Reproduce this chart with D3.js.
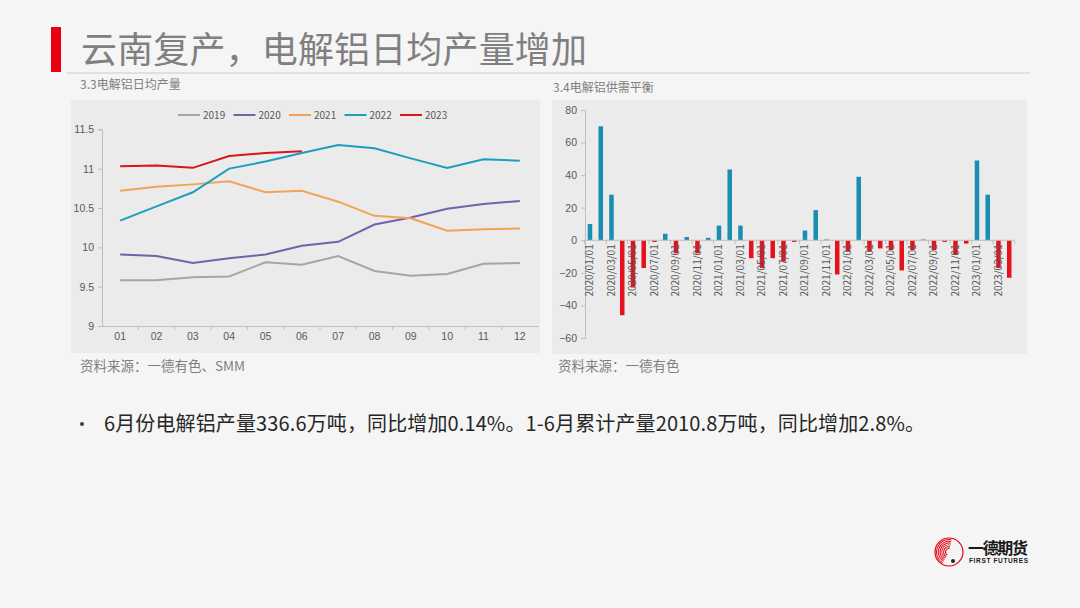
<!DOCTYPE html>
<html>
<head>
<meta charset="utf-8">
<script src="https://d3js.org/d3.v7.min.js"></script>
<style>
  body { margin: 0; background: #f5f5f5; }
  svg { display: block; font-family: "Noto Sans CJK SC", "Noto Sans", sans-serif; }
</style>
</head>
<body>
<svg id="page"></svg>
<script>
// ---- data ----
const months = ['01', '02', '03', '04', '05', '06', '07', '08', '09', '10', '11', '12']
const years = ['2019', '2020', '2021', '2022', '2023']
const s2019 = [9.58, 9.58, 9.62, 9.63, 9.81, 9.78, 9.89, 9.70, 9.64, 9.66, 9.79, 9.80]
const s2020 = [9.91, 9.89, 9.80, 9.86, 9.91, 10.02, 10.07, 10.29, 10.38, 10.49, 10.55, 10.59]
const s2021 = [10.72, 10.77, 10.80, 10.84, 10.70, 10.72, 10.58, 10.40, 10.37, 10.21, 10.23, 10.24]
const s2022 = [10.34, 10.52, 10.70, 11.00, 11.09, 11.20, 11.30, 11.26, 11.13, 11.01, 11.12, 11.10]
const s2023 = [11.03, 11.04, 11.01, 11.16, 11.20, 11.22]
const yTicksLeft = [9, 9.5, 10, 10.5, 11, 11.5]

const dates = ['2020/01/01', '2020/02/01', '2020/03/01', '2020/04/01', '2020/05/01', '2020/06/01',
  '2020/07/01', '2020/08/01', '2020/09/01', '2020/10/01', '2020/11/01', '2020/12/01',
  '2021/01/01', '2021/02/01', '2021/03/01', '2021/04/01', '2021/05/01', '2021/06/01',
  '2021/07/01', '2021/08/01', '2021/09/01', '2021/10/01', '2021/11/01', '2021/12/01',
  '2022/01/01', '2022/02/01', '2022/03/01', '2022/04/01', '2022/05/01', '2022/06/01',
  '2022/07/01', '2022/08/01', '2022/09/01', '2022/10/01', '2022/11/01', '2022/12/01',
  '2023/01/01', '2023/02/01', '2023/03/01', '2023/04/01']
const balance = [10, 70, 28, -46, -29, -17, -1, 4, -8, 2, -8, 1.5,
  9, 43.5, 9, -11, -17, -11, -13, -1, 6, 18.5, 0.5, -21,
  -7, 39, -7, -5, -6, -18.5, -6, 0.5, -6, -1, -9, -2,
  49, 28, -17, -23]
const yTicksRight = [-60, -40, -20, 0, 20, 40, 60, 80]

const seriesColors = ['#a5a5a5', '#7163a9', '#f4a354', '#1b9ec0', '#d9141e']

const width = 1080, height = 608
const svg = d3.select('#page').attr('width', width).attr('height', height)

svg.append('rect').attr('width', width).attr('height', height).attr('fill', '#f5f5f5')

// ---- header ----
svg.append('rect').attr('x', 51).attr('y', 27).attr('width', 10).attr('height', 45).attr('fill', '#e60012')
svg.append('text').attr('x', 81).attr('y', 63)
  .attr('font-size', 36).attr('fill', '#808080').attr('textLength', 506)
  .text('云南复产，电解铝日均产量增加')
svg.append('line').attr('x1', 67).attr('x2', 1030).attr('y1', 73).attr('y2', 73)
  .attr('stroke', '#d9d9d9').attr('stroke-width', 1.5)

svg.append('text').attr('x', 80).attr('y', 89).attr('font-size', 12).attr('fill', '#7f7f7f')
  .text('3.3电解铝日均产量')
svg.append('text').attr('x', 553).attr('y', 92).attr('font-size', 12).attr('fill', '#7f7f7f')
  .text('3.4电解铝供需平衡')

// ---- left chart: daily output ----
svg.append('rect').attr('x', 71).attr('y', 100).attr('width', 469).attr('height', 253).attr('fill', '#ebebeb')

const gl = svg.append('g')
const xL = d3.scaleBand().domain(months).range([102, 538])
const yL = d3.scaleLinear().domain([9, 11.5]).range([326, 129.3])
const cx = d => xL(d) + xL.bandwidth() / 2

const yAxisL = gl.append('g').attr('transform', 'translate(102,0)')
  .call(d3.axisLeft(yL).tickValues(yTicksLeft).tickSize(4).tickPadding(4).tickFormat(d3.format('')))
yAxisL.select('.domain').attr('stroke', '#bfbfbf')
yAxisL.selectAll('.tick line').attr('stroke', '#bfbfbf')
yAxisL.selectAll('text').attr('fill', '#595959').attr('font-size', 10.5)

const xAxisL = gl.append('g').attr('transform', 'translate(0,326)')
  .call(d3.axisBottom(xL).tickSize(0).tickPadding(7))
xAxisL.select('.domain').attr('stroke', '#bfbfbf')
xAxisL.selectAll('text').attr('fill', '#595959').attr('font-size', 10.5)
gl.selectAll('.xtickL').data(months.slice(1))
  .enter().append('line')
  .attr('x1', d => xL(d)).attr('x2', d => xL(d)).attr('y1', 326).attr('y2', 330)
  .attr('stroke', '#bfbfbf')

const line = d3.line().x((d, i) => cx(months[i])).y(d => yL(d))
const allSeries = [s2019, s2020, s2021, s2022, s2023]
gl.selectAll('.series').data(allSeries)
  .enter().append('path')
  .attr('d', line)
  .attr('fill', 'none')
  .attr('stroke', (d, i) => seriesColors[i])
  .attr('stroke-width', 2)

const legend = gl.selectAll('.leg').data(years).enter().append('g')
  .attr('transform', (d, i) => 'translate(' + (178 + i * 55.5) + ',115)')
legend.append('line').attr('x1', 0).attr('x2', 22).attr('y1', 0).attr('y2', 0)
  .attr('stroke', (d, i) => seriesColors[i]).attr('stroke-width', 2)
legend.append('text').attr('x', 25).attr('y', 3.5).attr('font-size', 10).attr('fill', '#595959')
  .text(d => d)

svg.append('text').attr('x', 80).attr('y', 371).attr('font-size', 13.5).attr('fill', '#7f7f7f')
  .text('资料来源：一德有色、SMM')

// ---- right chart: supply / demand balance ----
svg.append('rect').attr('x', 552).attr('y', 100).attr('width', 475).attr('height', 254).attr('fill', '#ebebeb')

const gr = svg.append('g')
const xR = d3.scaleBand().domain(dates).range([584.6, 1014.6]).paddingInner(0.58).paddingOuter(0.29)
const yR = d3.scaleLinear().domain([-60, 80]).range([338, 110])
const step = xR.step()

const yAxisR = gr.append('g').attr('transform', 'translate(585,0)')
  .call(d3.axisLeft(yR).tickValues(yTicksRight).tickSize(4).tickPadding(4))
yAxisR.select('.domain').attr('stroke', '#bfbfbf')
yAxisR.selectAll('.tick line').attr('stroke', '#bfbfbf')
yAxisR.selectAll('text').attr('fill', '#595959').attr('font-size', 10.5)

gr.selectAll('.bar').data(balance)
  .enter().append('rect')
  .attr('x', (d, i) => xR(dates[i]))
  .attr('width', xR.bandwidth())
  .attr('y', d => yR(Math.max(0, d)))
  .attr('height', d => Math.abs(yR(d) - yR(0)))
  .attr('fill', d => d >= 0 ? '#1a8db2' : '#e3121c')

const zeroY = yR(0)
gr.append('line').attr('x1', 584.6).attr('x2', 1014.6).attr('y1', zeroY).attr('y2', zeroY)
  .attr('stroke', '#bfbfbf')
// tick marks every two months, on the band edges
const tickDates = dates.filter((d, i) => i % 2 === 0)
gr.selectAll('.xtickR').data(tickDates.concat(['end']))
  .enter().append('line')
  .attr('x1', (d, i) => 584.6 + i * 2 * step).attr('x2', (d, i) => 584.6 + i * 2 * step)
  .attr('y1', zeroY).attr('y2', zeroY + 4)
  .attr('stroke', '#bfbfbf')

gr.selectAll('.xlabR').data(tickDates)
  .enter().append('text')
  .attr('transform', d => 'translate(' + (xR(d) + xR.bandwidth() / 2 + 3.5) + ',' + (zeroY + 4) + ')rotate(-90)')
  .attr('text-anchor', 'end')
  .attr('font-size', 10)
  .attr('fill', '#595959')
  .text(d => d)

svg.append('text').attr('x', 558).attr('y', 371).attr('font-size', 13.5).attr('fill', '#7f7f7f')
  .text('资料来源：一德有色')

// ---- bullet text ----
svg.append('circle').attr('cx', 82).attr('cy', 424).attr('r', 2).attr('fill', '#404040')
svg.append('text').attr('x', 104).attr('y', 431).attr('font-size', 20).attr('fill', '#262626')
  .attr('textLength', 821)
  .text('6月份电解铝产量336.6万吨，同比增加0.14%。1-6月累计产量2010.8万吨，同比增加2.8%。')

// ---- logo ----
const logo = svg.append('g').attr('transform', 'translate(949,552)')
logo.append('circle').attr('r', 14).attr('fill', 'none').attr('stroke', '#e60012').attr('stroke-width', 1.2)
d3.range(6).forEach(k => {
  logo.append('path')
    .attr('d', d3.arc()({ innerRadius: 3 + k * 1.8, outerRadius: 4 + k * 1.8, startAngle: -2.6, endAngle: 0.2 }))
    .attr('fill', '#e60012')
})
logo.append('circle').attr('cx', 4).attr('cy', 9).attr('r', 2).attr('fill', '#222')
svg.append('text').attr('x', 968).attr('y', 554).attr('font-size', 16).attr('font-weight', 'bold')
  .attr('fill', '#1a1a1a').attr('textLength', 60).text('一德期货')
svg.append('text').attr('x', 969).attr('y', 563).attr('font-size', 6.5).attr('font-weight', 'bold')
  .attr('fill', '#1a1a1a').attr('textLength', 59).attr('font-family', 'Liberation Sans, Arial').text('FIRST FUTURES')
</script>
</body>
</html>
